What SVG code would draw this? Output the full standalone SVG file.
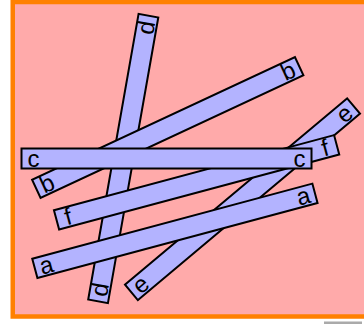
<svg xmlns="http://www.w3.org/2000/svg" width="364" height="324" viewBox="0 0 364 324">
<style>
.bar rect{fill:#b3b3ff;stroke:#000;stroke-width:2}
.bar text{font-family:"Liberation Sans",Arial,sans-serif;font-size:24px;fill:#000;text-anchor:middle}
</style>
<rect x="0" y="0" width="364" height="324" fill="#fff"/>
<rect x="12.75" y="2" width="400" height="314.5" fill="#ffaaaa" stroke="#ff8000" stroke-width="4.5"/>
<rect x="324" y="321.5" width="38" height="2.5" fill="#aaaaaa"/>
<g id="d" class="bar" transform="translate(123.25,158.5) rotate(-80)">
<rect x="-145" y="-10" width="290" height="20"/>
<text x="-133" y="8">d</text><text x="133" y="8">d</text>
</g>
<g id="b" class="bar" transform="translate(167.75,127.5) rotate(-25)">
<rect x="-145" y="-10" width="290" height="20"/>
<text x="-133" y="8">b</text><text x="133" y="8">b</text>
</g>
<g id="e" class="bar" transform="translate(242.5,199.2) rotate(-40)">
<rect x="-145" y="-10" width="290" height="20"/>
<text x="-133" y="8">e</text><text x="133" y="8">e</text>
</g>
<g id="f" class="bar" transform="translate(196.6,182.3) rotate(-15)">
<rect x="-145" y="-10" width="290" height="20"/>
<text x="-133" y="8">f</text><text x="133" y="8">f</text>
</g>
<g id="c" class="bar" transform="translate(166.5,158.5)">
<rect x="-145" y="-10" width="290" height="20"/>
<text x="-133" y="8">c</text><text x="133" y="8">c</text>
</g>
<g id="a" class="bar" transform="translate(174.9,230.8) rotate(-15)">
<rect x="-145" y="-10" width="290" height="20"/>
<text x="-133" y="8">a</text><text x="133" y="8">a</text>
</g>
</svg>
